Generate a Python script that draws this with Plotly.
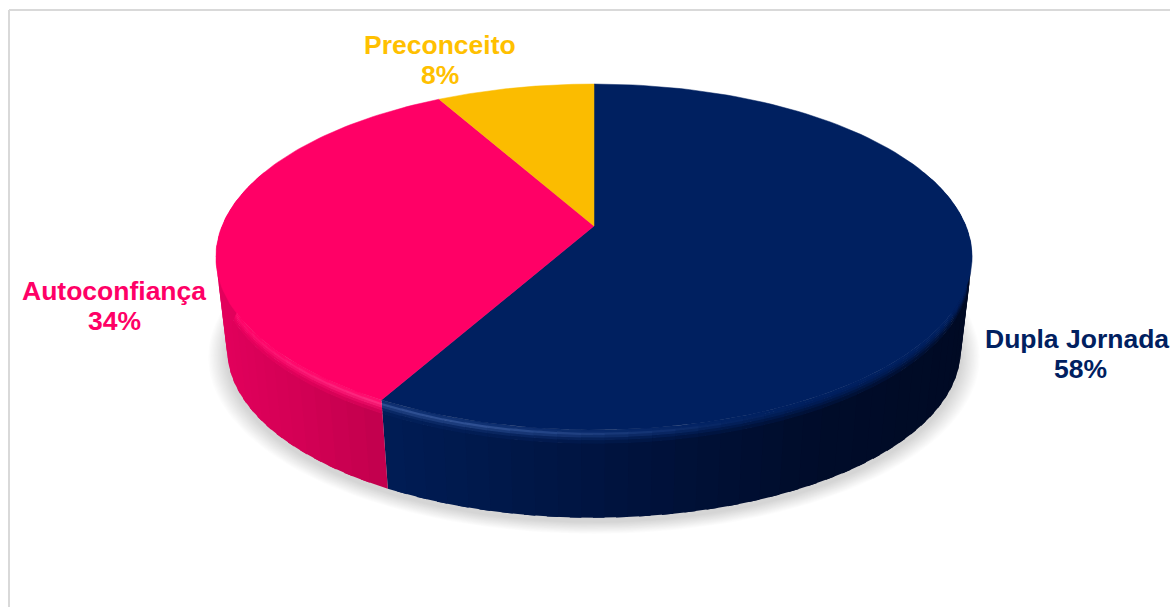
import numpy as np
import plotly.graph_objects as go

# Chart data
categories = ["Dupla Jornada", "Autoconfiança", "Preconceito"]
shares = [58, 34, 8]

# Slice colours: top face, label, and side wall shade stops (screen x -> rgb)
face_colors = [(0, 32, 96), (255, 0, 102), (251, 188, 0)]
text_colors = ["#002060", "#FF0066", "#FFC000"]
wall_stops = [
    ([390, 620, 820, 970], [(0, 28, 84), (0, 19, 62), (0, 12, 42), (0, 10, 36)]),
    ([215, 300, 395], [(226, 0, 92), (210, 0, 84), (190, 0, 76)]),
    ([0, 1170], [(200, 150, 0), (200, 150, 0)]),
]
# Label centre x for the name, centre x for the share, then the two line baselines
label_anchor = [(1076.5, 1080, 339, 369), (114, 114, 291, 321), (440, 440, 45, 75)]

# Perspective disc: angle is measured clockwise from the far side
CX, APEX_Y, TILT = 594.0, 226.0, 0.179
TOP_A, TOP_B = 167.4, 372.0
BASE_SCALE, BASE_Y = 0.97, 320.0


def disc(theta, radius=1.0, scale=1.0, y0=APEX_Y):
    u = np.sin(theta) * radius
    v = np.cos(theta) * radius
    w = 1 + TILT * v
    return CX + scale * TOP_B * u / w, y0 - scale * TOP_A * v / w


def rgb(c):
    return f"rgb({int(round(c[0]))},{int(round(c[1]))},{int(round(c[2]))})"


def mix(a, b, t):
    return tuple(a[i] + (b[i] - a[i]) * t for i in range(3))


def wall_color(i, x):
    xs, cs = wall_stops[i]
    return tuple(np.interp(x, xs, [c[k] for c in cs]) for k in range(3))


def polygon(fig, x, y, color, seam=0.0):
    fig.add_trace(go.Scatter(
        x=np.append(x, x[0]), y=np.append(y, y[0]), mode="lines", fill="toself",
        fillcolor=color, line=dict(color=color, width=seam),
        hoverinfo="skip", showlegend=False,
    ))


def wall_quad(fig, tx, ty, bx, by, f0, f1, color):
    """One piece of wall between fractions f0 and f1 of the rim-to-base height."""
    polygon(fig,
            np.array([tx[0] + (bx[0] - tx[0]) * f0, tx[1] + (bx[1] - tx[1]) * f0,
                      tx[1] + (bx[1] - tx[1]) * f1, tx[0] + (bx[0] - tx[0]) * f1]),
            np.array([ty[0] + (by[0] - ty[0]) * f0, ty[1] + (by[1] - ty[1]) * f0,
                      ty[1] + (by[1] - ty[1]) * f1, ty[0] + (by[0] - ty[0]) * f1]),
            color)


fig = go.Figure()

# Soft drop shadow under the pie, built from stacked translucent discs
ring = np.linspace(0, 2 * np.pi, 241)
for d in np.linspace(0.05, 0.004, 14):
    sx, sy = disc(ring, 1 + d, BASE_SCALE, BASE_Y + 4)
    polygon(fig, sx, sy, "rgba(0,0,0,0.011)")

edges = np.deg2rad(np.cumsum([0] + shares) * 3.6)

# Side wall: thin quads between the top rim and the base rim, with a bevel at the rim.
# Pieces overlap the next one and are painted in order, so no seams show between them.
bevel_f = [0.0, 0.025, 0.05, 0.08, 0.11, 0.15]
bevel_mix = [0.0, 0.08, 0.25, 0.5, 0.75, 0.92]
bevel_glow = [0.3, 0.85, 0.5, 0.18, 0.04, 0.0]
VISIBLE = np.deg2rad([70, 290])

for i in range(2):
    lo = max(edges[i], VISIBLE[0])
    hi = min(edges[i + 1], VISIBLE[1])
    n = max(2, int(np.degrees(hi - lo) / 3))
    grid = np.linspace(lo, hi, n + 1)
    step = grid[1] - grid[0]
    for a, b in zip(grid[:-1], grid[1:]):
        far = min(b + step * 0.5, hi)
        tx, ty = disc(np.array([a, far]))
        bx, by = disc(np.array([a, far]), 1, BASE_SCALE, BASE_Y)
        xmid = disc(np.array([(a + b) / 2]))[0][0]
        side = wall_color(i, xmid)
        # lower part of the wall
        wall_quad(fig, tx, ty, bx, by, bevel_f[-1], 1.0, rgb(side))
        # glow along the near rim, strongest on the lower left
        glow = float(np.interp(xmid, [225, 300, 400, 480, 600, 720, 800],
                               [0.08, 0.35, 0.6, 0.6, 0.35, 0.08, 0.0]))
        target = (255, 90, 160) if i == 1 else (90, 125, 195)
        for k in reversed(range(len(bevel_f) - 1)):
            col = mix(mix(face_colors[i], side, bevel_mix[k]), target, glow * bevel_glow[k])
            wall_quad(fig, tx, ty, bx, by, bevel_f[k], bevel_f[k + 1] + 0.008, rgb(col))

# Top face of each slice
for i in range(len(shares)):
    arc = np.linspace(edges[i], edges[i + 1], 120)
    ax, ay = disc(arc)
    polygon(fig, np.append(ax, CX), np.append(ay, APEX_Y), rgb(face_colors[i]), seam=0.5)

# Two-line labels: category name over its share
for name, value, color, (nx, px, y1, y2) in zip(categories, shares, text_colors, label_anchor):
    for text, lx, ly in ((name, nx, y1), (f"{value}%", px, y2)):
        fig.add_annotation(x=lx, y=ly, text=f"<b>{text}</b>", showarrow=False,
                           xanchor="center", yanchor="middle",
                           font=dict(family="Liberation Sans, Arial, sans-serif", size=26.5, color=color))

# Chart frame along the top and left
frame = dict(type="line", xref="x", yref="y", line=dict(color="#D9D9D9", width=2))
fig.add_shape(x0=9, x1=1170, y0=10, y1=10, **frame)
fig.add_shape(x0=9, x1=9, y0=10, y1=607, **frame)

fig.update_layout(
    width=1170, height=607, margin=dict(l=0, r=0, t=0, b=0),
    paper_bgcolor="white", plot_bgcolor="white", showlegend=False,
    xaxis=dict(range=[0, 1170], visible=False, fixedrange=True),
    yaxis=dict(range=[607, 0], visible=False, fixedrange=True),
)

fig.write_html("out.html", config={"displayModeBar": False})
